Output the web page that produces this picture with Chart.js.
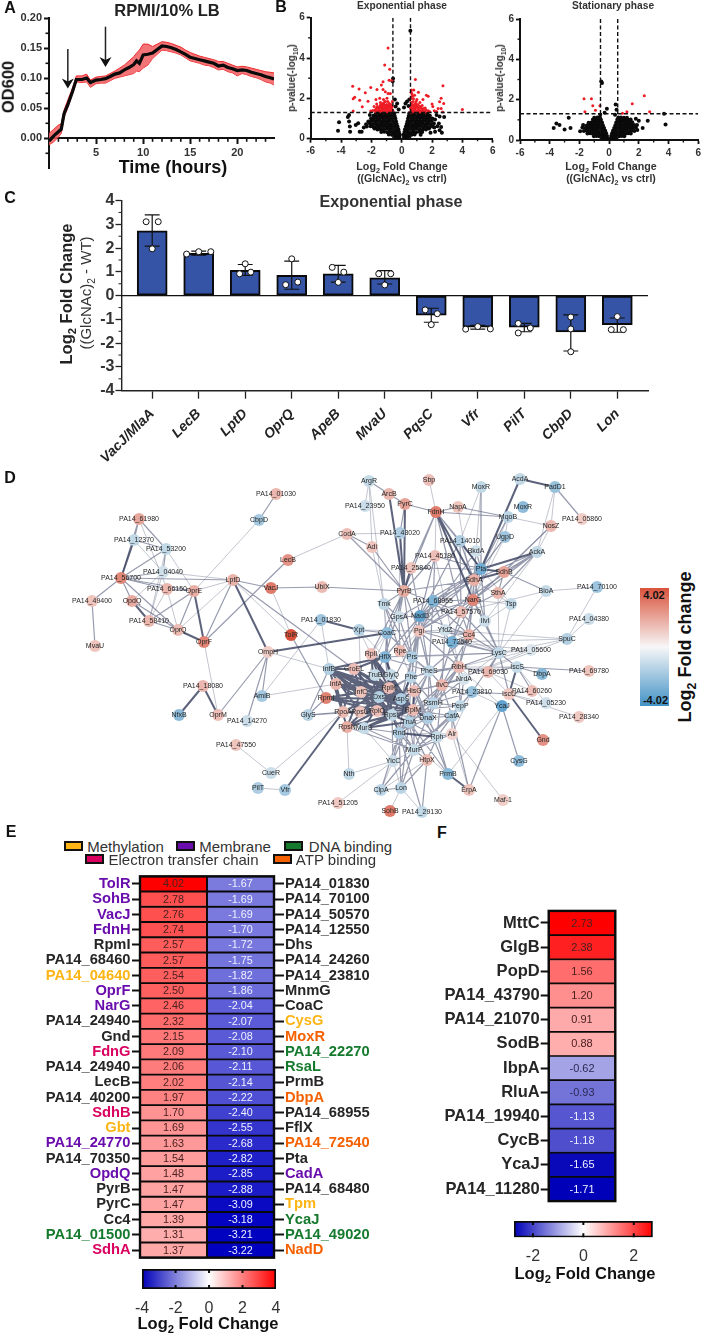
<!DOCTYPE html>
<html>
<head>
<meta charset="utf-8">
<style>
html, body { margin: 0; padding: 0; background: #fff; }
#page { position: relative; width: 704px; height: 1334px; overflow: hidden; font-family: "Liberation Sans", Arial, sans-serif; }
#page canvas { position: absolute; }
.txt { position: absolute; white-space: nowrap; line-height: 1; color: #222; }
.txt sub { font-size: 68%; line-height: 0; }
.swatch { position: absolute; height: 6px; border: 2px solid #111; box-sizing: content-box; }
</style>
<script src="https://cdn.jsdelivr.net/npm/chart.js@4/dist/chart.umd.min.js"></script>
</head>
<body>
<div id="page"></div>
<script>
// ---- panel A growth curve
const growthTime = [0, 0.5, 1, 1.3, 1.6, 2, 2.5, 2.9, 3.5, 4, 4.4, 5, 5.5, 6, 6.5, 7, 7.5, 8, 8.5, 9, 9.3, 9.6, 10, 10.5, 11, 11.5, 12, 12.5, 13, 13.5, 14, 14.5, 15, 15.5, 16, 16.5, 17, 17.5, 18, 18.5, 19, 19.5, 20, 20.5, 21, 21.5, 22, 22.5, 23, 23.5, 23.9];
const growthMean = [-0.005, 0.004, 0.011, 0.015, 0.041, 0.056, 0.078, 0.098, 0.098, 0.1005, 0.093, 0.097, 0.098, 0.0995, 0.103, 0.107, 0.109, 0.114, 0.118, 0.123, 0.129, 0.125, 0.139, 0.14, 0.142, 0.148, 0.154, 0.153, 0.151, 0.148, 0.144, 0.14, 0.135, 0.133, 0.131, 0.129, 0.127, 0.125, 0.1205, 0.122, 0.118, 0.116, 0.113, 0.114, 0.113, 0.11, 0.108, 0.106, 0.103, 0.101, 0.099];
const growthUpper = [0.008, 0.015, 0.022, 0.024, 0.047, 0.064, 0.084, 0.104, 0.104, 0.107, 0.097, 0.102, 0.103, 0.104, 0.108, 0.112, 0.117, 0.122, 0.129, 0.136, 0.142, 0.147, 0.157, 0.157, 0.153, 0.157, 0.161, 0.16, 0.158, 0.155, 0.152, 0.147, 0.143, 0.14, 0.137, 0.135, 0.133, 0.131, 0.128, 0.128, 0.125, 0.122, 0.119, 0.12, 0.119, 0.117, 0.115, 0.113, 0.111, 0.11, 0.109];
const growthLower = [-0.011, -0.006, 0.002, 0.008, 0.035, 0.051, 0.074, 0.094, 0.093, 0.094, 0.085, 0.091, 0.092, 0.092, 0.096, 0.1, 0.102, 0.104, 0.106, 0.108, 0.112, 0.111, 0.117, 0.122, 0.133, 0.14, 0.147, 0.146, 0.144, 0.142, 0.139, 0.134, 0.129, 0.127, 0.125, 0.122, 0.121, 0.118, 0.114, 0.115, 0.111, 0.109, 0.104, 0.108, 0.106, 0.103, 0.101, 0.098, 0.094, 0.092, 0.089];
const growthArrowTime = [2, 6];
const growthArrowTop = [0.149, 0.186];
const growthArrowTip = [0.083, 0.119];

// ---- panel B volcano plots, [log2 fold change, -log10 p]
const expRed = [[-0.9,4.5],[-1.12,3.65],[-0.79,3.45],[-1.23,2.82],[-0.83,2.9],[-0.64,2.9],[-3.23,2.6],[-2.81,2.47],[-2.4,2.28],[-2.04,2.54],[-1.63,2.44],[-1.34,2.66],[-1.23,2.44],[-1.08,2.33],[-0.9,2.24],[-0.75,2.24],[-3.2,1.98],[-3.1,2.05],[-2.77,1.91],[-2.22,1.86],[-1.45,2.0],[-0.97,2.0],[-1.7,1.95],[-1.2,1.95],[-2.6,1.58],[-3.2,1.37],[-2.04,1.37],[-1.82,1.6],[-1.65,1.72],[-1.5,1.55],[-1.4,1.8],[-1.28,1.62],[-1.18,1.78],[-1.1,1.52],[-1,1.7],[-0.92,1.85],[-0.85,1.55],[-0.75,1.7],[-0.68,1.5],[-0.62,1.85],[-1.9,1.4],[-1.75,1.42],[-1.6,1.38],[-1.48,1.42],[-1.35,1.38],[-1.25,1.44],[-1.15,1.38],[-1.05,1.42],[-0.95,1.38],[-0.85,1.42],[-0.75,1.38],[-0.65,1.42],[-1.55,1.52],[-1.2,1.55],[-0.95,1.55],[-0.8,1.62],[-1.05,1.62],[-1.35,1.52],
  [-1.68,1.5],[-1.42,1.62],[-1.3,1.5],[-1.12,1.66],[-1,1.5],[-0.9,1.65],[-0.72,1.56],[-0.62,1.6],[-1.45,1.34],[-1.2,1.34],[-0.98,1.34],[-0.72,1.34],[-1.6,1.6],[-1.25,1.72],[-1.08,1.85],[-0.82,1.75],[-0.68,1.68],[-1.72,1.34],[-1.38,1.7],[-0.58,1.4],
  [0.9,2.94],[0.64,2.41],[0.8,2.42],[0.62,2.3],[1.1,2.3],[2.72,2.62],[1.63,2.16],[2.6,2.0],[2.5,1.83],[2.77,1.75],[2,1.72],[4,1.45],[2.05,1.6],[2.4,1.5],[2.15,1.38],[2.6,1.5],[2.7,1.32],[2.3,1.35],[1.75,2.1],[1.4,1.95],[0.7,2.1],[0.85,2.15],[1.0,1.95],[0.62,1.8],[0.75,1.85],[0.9,1.75],[1.05,1.7],[1.2,1.8],[1.35,1.65],[0.65,1.62],[0.8,1.58],[0.95,1.55],[1.1,1.52],[1.25,1.55],[1.45,1.5],[1.6,1.42],[0.62,1.42],[0.75,1.38],[0.88,1.42],[1,1.38],[1.15,1.4],[1.3,1.38],[1.45,1.36],[1.75,1.38],[1.85,1.34],
  [0.7,1.5],[0.85,1.48],[1,1.62],[1.18,1.62],[1.32,1.48],[0.58,1.52],[0.72,1.7],[0.88,1.66],[0.62,2.0],[0.78,1.98],[0.68,2.22],[0.95,1.85],[1.55,1.52],[0.7,1.33],[0.95,1.33],[1.2,1.33],[1.55,1.33],[1.35,1.44],[0.6,1.33],[1.12,1.44]];
const expBlack = [[-4.13,0.81],[-4.2,0.4],[-3.47,1.17],[-3.55,1.08],[-3.47,0.85],[-3.42,0.6],[-3.4,0.35],[-2.87,0.76],[-3.03,0.68],[-2.77,0.35],[-2.64,0.35],[-2.1,1.17],[-2.5,0.55],[-0.57,2.98],[-0.6,2.85],[0.57,5.35],[-0.45,1.95],[-0.3,1.75],[0.25,1.75],[0.35,1.85],[0.15,1.55],[0.5,1.95],[0.45,1.62],[-0.2,1.45],[-0.4,1.6],
  [-0.15,0.08],[-0.3,0.06],[-0.45,0.1],[-0.12,0.2],[-0.28,0.18],[-0.45,0.22],[-0.65,0.19],[-0.85,0.21],[-0.18,0.33],[-0.35,0.35],[-0.55,0.31],[-0.75,0.34],[-0.95,0.32],[-1.15,0.35],[-1.35,0.33],[-0.22,0.47],[-0.4,0.45],[-0.6,0.48],[-0.8,0.46],[-1,0.49],[-1.2,0.45],[-1.4,0.47],[-1.6,0.46],[-1.8,0.5],[-0.28,0.6],[-0.45,0.62],[-0.65,0.59],[-0.85,0.61],[-1.05,0.6],[-1.25,0.62],[-1.45,0.59],[-1.65,0.61],[-1.85,0.58],[-2.05,0.62],[-2.3,0.6],[-0.33,0.73],[-0.52,0.75],[-0.7,0.72],[-0.9,0.74],[-1.1,0.73],[-1.3,0.75],[-1.5,0.72],[-1.7,0.74],[-1.9,0.72],[-2.1,0.75],[-2.35,0.72],[-0.38,0.87],[-0.58,0.85],[-0.78,0.88],[-0.98,0.86],[-1.18,0.87],[-1.38,0.85],[-1.58,0.88],[-1.78,0.86],[-1.98,0.88],[-2.2,0.85],[-0.42,1],[-0.62,1.01],[-0.82,0.99],[-1.02,1.01],[-1.22,1],[-1.42,1.02],[-1.62,0.99],[-1.82,1.01],[-2.02,1],[-0.46,1.13],[-0.66,1.12],[-0.86,1.14],[-1.06,1.12],[-1.26,1.13],[-1.46,1.14],[-1.66,1.12],[-1.86,1.14],[-0.5,1.26],[-0.7,1.25],[-0.9,1.27],[-1.1,1.25],[-1.3,1.26],[-1.5,1.27],[-1.7,1.25],
  [0.15,0.08],[0.3,0.06],[0.45,0.1],[0.12,0.2],[0.28,0.18],[0.45,0.22],[0.65,0.19],[0.85,0.21],[0.18,0.33],[0.35,0.35],[0.55,0.31],[0.75,0.34],[0.95,0.32],[1.15,0.35],[1.35,0.33],[0.22,0.47],[0.4,0.45],[0.6,0.48],[0.8,0.46],[1,0.49],[1.2,0.45],[1.4,0.47],[1.6,0.46],[1.8,0.5],[0.28,0.6],[0.45,0.62],[0.65,0.59],[0.85,0.61],[1.05,0.6],[1.25,0.62],[1.45,0.59],[1.65,0.61],[1.85,0.58],[2.05,0.6],[0.33,0.73],[0.52,0.75],[0.7,0.72],[0.9,0.74],[1.1,0.73],[1.3,0.75],[1.5,0.72],[1.7,0.74],[1.9,0.72],[2.12,0.75],[0.38,0.87],[0.58,0.85],[0.78,0.88],[0.98,0.86],[1.18,0.87],[1.38,0.85],[1.58,0.88],[1.78,0.86],[1.98,0.88],[0.42,1],[0.62,1.01],[0.82,0.99],[1.02,1.01],[1.22,1],[1.42,1.02],[1.62,0.99],[1.82,1.01],[2.02,1],[0.46,1.13],[0.66,1.12],[0.86,1.14],[1.06,1.12],[1.26,1.13],[1.46,1.14],[1.66,1.12],[1.86,1.14],[0.5,1.26],[0.7,1.25],[0.9,1.27],[1.1,1.25],[1.3,1.26],[1.5,1.27],[1.7,1.25],
  [2.3,1.17],[2.2,0.95],[2.5,1.1],[2.15,0.55],[2.45,0.75],[2.35,0.62],[2.6,0.58],[2.5,0.42],[2.65,0.3],[2.2,0.35],[1.25,0.2],[1.9,0.3],[2.8,1.08]];
const statRed = [[-1.69,2.05],[-1.19,2.05],[2.37,2.2],[1.56,1.8],[-1.1,1.7],[-0.62,1.7],[-1.63,1.4],[-0.92,1.48],[0.9,1.33],[1.2,1.4],[2.73,1.4]];
const statBlack = [[-0.53,2.9],[-0.48,2.83],[0.44,1.76],[0.5,1.5],[-0.15,1.55],[-0.3,1.35],[3.7,1.3],[3.8,0.77],[-2.72,1.1],[-3.73,0.6],[-3.55,0.82],[-3.34,0.74],[-3,0.52],[-2.6,0.6],[2.6,0.95],[2.26,0.6],[0.4,1.25],[-0.6,1.25],[1.8,1.05],[2,0.95],
  [-0.12,0.07],[-0.28,0.09],[-0.44,0.06],[-0.14,0.2],[-0.3,0.18],[-0.48,0.21],[-0.66,0.19],[-0.84,0.2],[-1.02,0.18],[-0.2,0.33],[-0.38,0.31],[-0.56,0.34],[-0.74,0.32],[-0.92,0.33],[-1.1,0.31],[-1.28,0.34],[-1.46,0.32],[-0.26,0.46],[-0.44,0.47],[-0.62,0.45],[-0.8,0.47],[-0.98,0.46],[-1.16,0.48],[-1.34,0.45],[-1.52,0.47],[-1.7,0.45],[-1.95,0.44],[-0.34,0.6],[-0.52,0.59],[-0.7,0.61],[-0.88,0.59],[-1.06,0.6],[-1.24,0.61],[-1.42,0.59],[-1.6,0.6],[-1.8,0.62],[-0.42,0.73],[-0.6,0.74],[-0.78,0.72],[-0.96,0.74],[-1.14,0.73],[-1.32,0.74],[-1.5,0.72],[-1.75,0.74],[-0.48,0.87],[-0.66,0.86],[-0.84,0.88],[-1.02,0.86],[-1.2,0.87],[-1.38,0.85],[-0.55,1],[-0.73,1.01],[-0.91,0.99],[-1.09,1.02],[-0.62,1.12],[-0.8,1.12],[-1,1.1],
  [0.12,0.07],[0.28,0.09],[0.44,0.06],[0.14,0.2],[0.3,0.18],[0.48,0.21],[0.66,0.19],[0.84,0.2],[1.02,0.18],[0.2,0.33],[0.38,0.31],[0.56,0.34],[0.74,0.32],[0.92,0.33],[1.1,0.31],[1.28,0.34],[1.46,0.32],[0.26,0.46],[0.44,0.47],[0.62,0.45],[0.8,0.47],[0.98,0.46],[1.16,0.48],[1.34,0.45],[1.52,0.47],[1.7,0.45],[1.9,0.5],[0.34,0.6],[0.52,0.59],[0.7,0.61],[0.88,0.59],[1.06,0.6],[1.24,0.61],[1.42,0.59],[1.6,0.6],[1.8,0.62],[0.42,0.73],[0.6,0.74],[0.78,0.72],[0.96,0.74],[1.14,0.73],[1.32,0.74],[1.5,0.72],[1.68,0.74],[1.88,0.75],[0.48,0.87],[0.66,0.86],[0.84,0.88],[1.02,0.86],[1.2,0.87],[1.38,0.85],[1.56,0.88],[0.55,1],[0.73,1.01],[0.91,0.99],[1.09,1.02],[1.27,1],[1.45,1.02],[0.62,1.12],[0.8,1.12],[1,1.1],[1.2,1.1]];
const foldCutoffs = [-0.58, 0.58];
const pCutoff = 1.3;

// ---- panel C bars
const qpcrGenes = ["VacJ/MlaA", "LecB", "LptD", "OprQ", "ApeB", "MvaU", "PqsC", "Vfr", "PilT", "CbpD", "Lon"];
const qpcrMeans = [2.73, 1.78, 1.07, 0.85, 0.92, 0.75, -0.82, -1.33, -1.33, -1.53, -1.22];
const qpcrErrLow = [2.08, 1.7, 0.85, 0.27, 0.57, 0.49, -1.12, -1.41, -1.52, -2.33, -1.54];
const qpcrErrHigh = [3.4, 1.87, 1.31, 1.45, 1.27, 1.05, -0.53, -1.25, -1.17, -0.81, -0.94];
const qpcrDotX = [-0.13, 0.13, 0, 0.74, 1, 1.26, 2, 1.88, 2.12, 3, 2.87, 3.13, 3.87, 4.12, 4, 4.87, 5.13, 5, 5.87, 6.13, 6, 6.74, 7, 7.27, 7.87, 8.13, 7.87, 9, 9, 9, 10, 9.87, 10.13];
const qpcrDotY = [3.11, 3.11, 1.97, 1.75, 1.85, 1.85, 1.34, 0.92, 0.99, 1.55, 0.46, 0.57, 1.19, 0.99, 0.56, 0.92, 0.92, 0.45, -0.6, -0.76, -1.22, -1.41, -1.3, -1.4, -1.17, -1.36, -1.57, -0.9, -1.4, -2.36, -0.88, -1.43, -1.43];

// ---- panel D network: layout position of each protein
const nodeNames = ["PA14_01030", "CbpD", "PA14_61980", "PA14_12370", "PA14_53200", "PA14_04040", "PA14_56700", "PA14_66150", "OprE", "LptD",
  "LecB", "VacJ", "UbiX", "PA14_49400", "OpdQ", "PA14_58410", "OprQ", "OprF", "TolR", "OmpH",
  "PA14_01830", "MvaU", "PA14_18080", "NfxB", "OprM", "PA14_14270", "AmiB", "PA14_47550", "CueR", "PilT",
  "Vfr", "GlyS", "InfB", "GroEL", "InfA", "RpmI", "RpoA", "RpsN", "Nth", "CodA",
  "Xpt", "ArgR", "ArcB", "Sbp", "PyrC", "PA14_23950", "MoxR", "AcdA", "PadD1", "MoxR",
  "FdnH", "NapA", "MqoB", "PA14_05860", "NosZ", "PA14_48020", "PA14_14010", "UgpD", "Adi", "BkdA",
  "AckA", "PA14_45180", "PA14_25840", "Pta", "SdhB", "SdhA", "PyrB", "SthA", "BioA", "PA14_70100",
  "Tmk", "PA14_68955", "NarG", "Tsp", "PA14_57570", "GpsA", "NadD", "IlvI", "PA14_04380", "CoaC",
  "Pgi", "YfdZ", "Cc4", "PA14_72540", "SpuC", "LysC", "PA14_05600", "RplI", "HflX", "Rpe",
  "Prs", "PheS", "RibH", "PA14_69030", "IscS", "DbpA", "PA14_69780", "TruB", "GlyQ", "Phe",
  "NrdA", "IlvC", "InfC", "RplK", "HisG", "PA14_23810", "IscU", "PA14_60260", "PA14_05230", "Dxs",
  "AspS", "RsmH", "PepP", "YcaJ", "RpsU", "RplO", "RplM", "RpsL", "TruA", "DnaX",
  "CafA", "PA14_28340", "MurS", "Rnd", "Rph", "Alr", "Gnd", "MurF", "HtpX", "YicC",
  "CysG", "PrmB", "ClpA", "Lon", "ErpA", "Maf-1", "PA14_51205", "SohB", "PA14_29130"];
const nodeX = [276, 259, 139, 134, 166, 163, 121, 167, 194, 233,
  288, 271, 322, 92, 132, 149, 178, 204, 291, 268,
  321, 95, 203, 179, 218, 247, 262, 236, 271, 258,
  285, 308, 329, 354, 336, 326, 343, 347, 349, 347,
  359, 369, 389, 429, 405, 365, 481, 520, 555, 523,
  436, 458, 508, 582, 551, 400, 460, 505, 372, 476,
  537, 435, 411, 481, 504, 474, 404, 498, 546, 597,
  384, 433, 473, 511, 461, 399, 420, 485, 589, 387,
  419, 445, 469, 452, 567, 499, 531, 371, 385, 400,
  412, 429, 459, 488, 517, 542, 589, 375, 391, 411,
  464, 442, 361, 389, 414, 472, 509, 532, 546, 379,
  401, 433, 460, 502, 360, 377, 413, 392, 409, 428,
  452, 579, 364, 399, 437, 452, 543, 414, 427, 393,
  519, 448, 381, 401, 469, 503, 338, 390, 422];
const nodeY = [494, 520, 519, 540, 549, 572, 578, 589, 591, 580,
  560, 588, 587, 601, 601, 621, 630, 642, 635, 652,
  620, 646, 686, 715, 715, 721, 696, 745, 773, 788,
  790, 715, 669, 669, 684, 698, 712, 727, 774, 534,
  630, 481, 494, 480, 504, 506, 487, 479, 487, 507,
  512, 507, 517, 519, 526, 533, 541, 537, 547, 551,
  552, 556, 568, 569, 572, 580, 591, 593, 591, 587,
  604, 601, 600, 604, 612, 617, 616, 621, 619, 633,
  631, 630, 635, 642, 639, 653, 650, 654, 657, 651,
  657, 671, 667, 672, 667, 674, 671, 675, 675, 677,
  679, 685, 692, 688, 691, 692, 694, 691, 703, 697,
  699, 703, 706, 706, 712, 711, 710, 715, 722, 718,
  716, 717, 728, 733, 737, 734, 740, 750, 760, 761,
  761, 774, 790, 788, 790, 800, 803, 811, 812];
const nodeFold = [1.2, -1.5, 1.6, -0.9, -0.9, -0.6, 2.4, 1.2, 1.4, 1.3,
  2.1, 2.76, 1.1, 0.9, 1.48, 1.2, 1.1, 2.5, 4.02, 0.7,
  -1.67, 0.9, 1.2, -2.1, 1, -0.7, -1.5, 0.9, -0.7, -1.3,
  -1.5, -1.1, -1.2, 1, 1.2, 2.57, 1.1, 1.4, -0.9, 1,
  -1.2, -0.8, 1.2, 1, 1.7, -0.7, -0.9, -0.9, -1.8, -2.08,
  2.74, 0.9, -1, 0.7, 1.2, -1.3, -1.3, -1.6, 0.9, -0.6,
  -0.9, 1, 0.9, -2.82, 1.7, 1.37, 1.47, 1.2, -0.8, -1.69,
  -0.9, -2.4, 2.46, -0.9, 1.1, -0.7, -3.22, -0.7, -0.7, -2.04,
  0.9, -0.6, 1.39, -2.68, -1.2, -0.9, -0.4, 1, -2.3, 1.1,
  -1.3, -0.9, 1.1, 1.2, -0.8, -2.22, 0.9, -0.8, -0.8, -1,
  -0.5, 1.2, 0.9, 1.1, 1, -1.82, 0.8, 1, -0.6, -1.2,
  -1.3, -1, -0.9, -3.18, 0.9, 1, 1.1, -0.9, -1.2, -1.3,
  -1.2, 0.8, -0.8, -1.3, -0.8, 0.6, 2.15, -0.8, 1.1, -0.7,
  -2.07, -2.14, -1, -1, 0.9, 0.7, 0.8, 2.78, -0.9];
const thinEdges = ["CbpD OprE", "PA14_61980 PA14_66150", "PA14_12370 PA14_04040", "PA14_53200 OprE", "PA14_53200 PA14_58410", "PA14_04040 LptD", "PA14_04040 OpdQ", "PA14_04040 PA14_58410", "PA14_66150 OprQ", "PA14_66150 PA14_58410", "OprE LptD", "OprQ LptD", "LptD TolR", "OprF OprM", "VacJ TolR", "LecB CodA", "OmpH InfB", "PA14_01830 InfB", "PA14_01830 AmiB", "AmiB InfA", "PA14_47550 CueR", "PilT Vfr", "CueR RpoA", "GlyS RplO", "GlyS RpsU", "Nth RpsN", "ArgR PA14_23950", "ArgR Adi", "Sbp FdnH", "PA14_48020 CodA", "FdnH PA14_45180", "NapA NarG", "MqoB NosZ", "MoxR BkdA", "MoxR PA14_14010", "PadD1 AckA", "PadD1 NosZ", "MqoB UgpD", "NosZ AckA", "SthA LysC", "BioA PA14_70100", "BioA LysC", "PA14_70100 SpuC", "SpuC LysC", "SpuC PA14_72540", "Tsp Pta", "Tsp LysC", "Tmk RplK", "Pgi Rpe", "Pgi YfdZ", "CoaC RplI", "YfdZ LysC", "LysC PA14_05600", "LysC NrdA", "LysC Prs", "IscS PA14_05230", "IscU PA14_28340", "IscU PA14_05230", "YcaJ PrmB", "PA14_23810 YcaJ", "Alr Rnd", "MurF YicC", "HtpX ClpA", "YicC ClpA", "YicC Lon", "Lon SohB", "PA14_51205 YicC", "Maf-1 Alr", "ErpA Alr", "Rnd PrmB", "Nth YicC", "PA14_04380 SpuC", "PA14_29130 Lon", "Rpe PheS", "Rpe Phe", "PA14_05600 PA14_72540", "YcaJ RibH", "NrdA IlvC", "PA14_45180 RibH", "MurS YicC", "MurS RpoA", "Alr PA14_23810",
  "PA14_69030 PA14_60260", "PA14_69030 IscU", "PA14_05600 IlvC", "PA14_05600 RibH", "IscS RibH", "IscS PheS", "SpuC YfdZ", "SpuC IlvC", "BioA PA14_57570", "NosZ NarG", "MqoB NarG", "MoxR Pta", "UgpD SdhA", "UgpD NarG", "Tsp NarG", "Tsp SdhA", "Tsp IlvI", "AckA IlvI", "PA14_48020 GpsA", "Adi Tmk", "ArgR Tmk", "Tmk CoaC", "Xpt RplI", "Xpt HflX", "Xpt InfC", "CoaC InfC", "Pgi Xpt"];
const midEdges = ["PA14_01030 CbpD", "PA14_61980 PA14_12370", "PA14_61980 PA14_56700", "PA14_61980 PA14_53200", "PA14_12370 PA14_53200", "PA14_53200 PA14_56700", "PA14_53200 PA14_04040", "PA14_04040 PA14_56700", "PA14_56700 LptD", "PA14_56700 PA14_66150", "PA14_56700 OprE", "PA14_56700 OprQ", "PA14_56700 OpdQ", "PA14_56700 PA14_49400", "PA14_49400 MvaU", "OpdQ OprQ", "PA14_58410 OprQ", "PA14_58410 OprE", "PA14_66150 OprE", "OprE OprQ", "LptD OprF", "LptD VacJ", "LptD GroEL", "OprF LecB", "VacJ UbiX", "UbiX PyrB", "TolR RpmI", "OmpH AmiB", "OmpH OprM", "OmpH PA14_14270", "GlyS InfB", "GlyS RpmI", "GlyS RpoA", "ArgR ArcB", "ArcB PyrC", "PyrC FdnH", "PA14_48020 PyrC", "Adi PyrB", "CodA PyrB", "Adi CodA", "FdnH NapA", "FdnH MqoB", "FdnH PA14_14010", "FdnH PA14_57570", "FdnH Pta", "NapA MqoB", "MqoB Pta", "PadD1 PA14_05860", "UgpD Pta", "NosZ SdhB", "AckA SdhB", "AckA SthA", "AckA SdhA", "Pta NarG", "Pta PA14_68955", "Pta PA14_25840", "Pta NadD", "Pta BkdA", "SdhB NarG", "SdhB SthA", "SdhB BioA", "SdhA NarG", "SdhA PA14_57570", "SdhA NadD", "SthA PA14_57570", "PA14_14010 PA14_57570", "PA14_14010 SdhA", "PA14_45180 PyrB", "PA14_45180 Pta", "BkdA Pgi", "PA14_25840 NadD", "PyrB GpsA", "PyrB Pgi", "PyrB CoaC", "PyrB Tmk", "Tmk GpsA", "GpsA NadD", "NadD Pgi", "NadD NarG", "NadD PA14_68955", "NadD PheS", "NadD Cc4", "Pgi RplK", "Pgi Prs", "Pgi PA14_68955", "Pgi Cc4", "Pgi RibH", "Pgi LysC", "Pgi NarG", "Xpt CoaC", "CoaC HflX", "Cc4 IlvI", "Cc4 PA14_72540", "Cc4 NarG", "Cc4 PA14_57570", "Cc4 RibH", "Cc4 LysC", "IlvI LysC", "IlvI Pta", "IlvI NarG", "YfdZ IlvC", "PA14_72540 LysC", "RibH LysC", "RibH PheS", "RibH IlvC", "RibH NrdA", "RibH PA14_69030", "LysC IscS", "LysC PA14_69030", "LysC IscU", "IscS DbpA", "IscS PA14_69780", "IscS PA14_60260", "IscS PA14_69030", "IscU PA14_60260", "YcaJ CysG", "YcaJ ErpA", "PA14_23810 IscU", "PA14_23810 IlvC", "PA14_23810 RsmH", "PepP CafA", "CafA DnaX", "CafA RplM", "CafA MurF", "PepP RsmH", "Alr Rph", "Alr MurF", "Rph MurF", "Rph TruA", "Rph PrmB", "Rnd MurF", "Rnd RplM", "Rnd DnaX", "MurF HtpX", "MurF TruA", "MurF RsmH", "HtpX Lon", "HtpX PA14_29130", "YicC Rnd", "ClpA Lon", "PA14_29130 Rnd", "ErpA CafA", "PrmB TruA", "PrmB HisG", "Phe RibH", "PheS RplM", "RplI PheS", "HflX LysC", "Prs PheS", "PheS DnaX", "Phe DnaX", "HisG DnaX", "HisG IlvC", "IlvC RsmH", "RsmH RplM", "DnaX RsmH", "Prs HisG", "Prs AspS", "HflX RplK", "HflX TruB", "Phe RplK", "Phe Dxs", "PheS RplK", "IlvC RplM", "PheS Rnd", "RibH TruA", "RibH PepP", "PA14_68955 PheS", "PA14_68955 Prs", "NarG RibH", "NarG LysC", "PA14_72540 RsmH", "PA14_72540 DnaX", "PA14_57570 LysC", "PA14_57570 PyrB",
  "Pgi PheS", "Pgi HisG", "Pgi Phe", "NadD Prs", "NadD Rpe", "NadD HflX", "PyrB Prs", "PyrB HflX", "PyrB RplI", "GpsA Prs", "GpsA Rpe", "Tmk Prs", "Tmk Rpe", "CoaC Prs", "CoaC RplK", "PA14_68955 RibH", "PA14_68955 Cc4", "PA14_68955 NarG", "PA14_68955 SdhA", "NarG YfdZ", "NarG PA14_72540", "Cc4 YfdZ", "Cc4 PheS", "Cc4 IlvC", "PA14_57570 PA14_72540", "SdhA Cc4", "SdhA IlvI", "SdhA PyrB", "FdnH PyrB", "FdnH PA14_25840", "PA14_45180 NadD", "PA14_45180 PA14_68955", "PA14_14010 NadD", "BkdA NarG", "BkdA SdhA", "Pta GpsA", "Pta Pgi", "AckA NarG", "AckA Pgi", "RibH DnaX", "RibH RsmH", "PheS HisG", "PheS IlvC", "PheS RsmH", "NrdA RsmH", "NrdA PepP", "NrdA HisG", "IlvC Rph", "IlvC CafA", "DnaX Rph", "TruA Rnd", "RsmH Rnd", "RsmH MurF", "HisG MurF", "HisG Rph", "Phe RsmH", "Prs Rnd", "Phe TruA", "RplM PepP", "RplM Rph", "RpsL MurF", "RpsL DnaX", "TruA DnaX", "PepP Rph", "PepP MurF", "CafA Rph", "CafA Alr", "PA14_23810 PepP", "PA14_23810 CafA", "PA14_23810 LysC", "YicC RpsL", "YicC TruA", "ClpA Rnd", "ClpA MurF", "Lon MurF", "Lon Rnd", "Lon TruA", "HtpX Rph", "HtpX TruA", "MurS Rnd", "MurS MurF", "RpsN MurF"];
const thickEdges = ["PA14_12370 PA14_56700", "OpdQ PA14_58410", "OprE OprF", "OprQ OprF", "LptD OmpH", "OmpH CoaC", "PA14_18080 NfxB", "PA14_18080 OprM", "PA14_01830 Xpt", "Vfr RpoA", "ArcB PyrB", "PyrC PyrB", "PA14_48020 PyrB", "FdnH SdhA", "FdnH NarG", "AcdA PadD1", "AcdA Pta", "AckA Pta", "Pta SdhA", "Pta SdhB", "SdhB SdhA", "PA14_14010 Pta", "PA14_25840 PyrB", "IscS IscU", "IscU Gnd", "Rph Rnd", "Rnd RpsL", "PrmB ErpA", "DnaX RplM", "TruA RplM", "HflX AspS", "HflX GlyQ", "Phe AspS",
  "InfB InfC", "InfB RplK", "InfB Dxs", "InfB AspS", "InfB RplO", "InfB RpsU", "InfB RpsL", "InfB RplM", "InfA InfC", "InfA RplK", "InfA RpsL", "InfA AspS", "InfA RplM", "RpmI InfC", "RpmI RplK", "RpmI RplO", "RpmI RpsL", "RpmI RplM", "RpmI AspS", "GroEL InfC", "GroEL RplK", "GroEL Dxs", "GroEL AspS", "GroEL RpsL", "TruB RplK", "TruB AspS", "TruB RplM", "GlyQ AspS", "GlyQ RplM", "GlyQ RplO", "RplI RplK", "RplI RplO", "RplI RpsL", "RplI AspS", "RplI RplM", "InfC RplK", "InfC RplO", "InfC RpsL", "InfC RplM", "RplK RpsL", "RplK RplM", "RplK RplO", "RplK AspS", "Dxs RplM", "Dxs RpsL", "RplO RplM", "RplO RpsL", "RpsU RplK", "RpsU RplM", "RpsU RpsL", "RpoA RplK", "RpoA RplM", "RpoA RpsL", "RpoA RplO", "RpsN RplK", "RpsN RplM", "RpsN RpsL", "AspS RplM", "AspS RpsL", "RpsL RplM", "RplM HisG", "MurS RplM", "MurS RpsL", "MurS RplK", "InfB RpoA", "InfB RpsN", "GroEL RpoA", "GroEL RplM", "InfC RpsN", "InfA RpoA", "InfB GroEL", "InfB HflX", "GroEL HflX", "TruB Dxs", "InfC Dxs", "RpsU Dxs", "RplO AspS", "HisG AspS", "RpoA RpsU", "RpsN RplO", "MurS TruA", "RpsL TruA"];

// ---- panel E heatmap
const leftGenes = ["TolR", "SohB", "VacJ", "FdnH", "RpmI", "PA14_68460", "PA14_04640", "OprF", "NarG", "PA14_24940", "Gnd", "FdnG", "PA14_24940", "LecB", "PA14_40200", "SdhB", "Gbt", "PA14_24770", "PA14_70350", "OpdQ", "PyrB", "PyrC", "Cc4", "PA14_01500", "SdhA"];
const leftFold = [4.02, 2.78, 2.76, 2.74, 2.57, 2.57, 2.54, 2.50, 2.46, 2.32, 2.15, 2.09, 2.06, 2.02, 1.97, 1.70, 1.69, 1.63, 1.54, 1.48, 1.47, 1.47, 1.39, 1.31, 1.37];
const leftGroups = ["mem", "mem", "mem", "mem", "", "", "met", "mem", "mem", "", "", "etc", "", "", "", "etc", "met", "mem", "", "mem", "", "", "", "dna", "etc"];
const rightGenes = ["PA14_01830", "PA14_70100", "PA14_50570", "PA14_12550", "Dhs", "PA14_24260", "PA14_23810", "MnmG", "CoaC", "CysG", "MoxR", "PA14_22270", "RsaL", "PrmB", "DbpA", "PA14_68955", "FflX", "PA14_72540", "Pta", "CadA", "PA14_68480", "Tpm", "YcaJ", "PA14_49020", "NadD"];
const rightFold = [-1.67, -1.69, -1.69, -1.70, -1.72, -1.75, -1.82, -1.86, -2.04, -2.07, -2.08, -2.10, -2.11, -2.14, -2.22, -2.40, -2.55, -2.68, -2.82, -2.85, -2.88, -3.09, -3.18, -3.21, -3.22];
const rightGroups = ["", "", "", "", "", "", "", "", "", "met", "atp", "dna", "dna", "", "atp", "", "", "atp", "", "mem", "", "met", "dna", "dna", "atp"];
const heatTicksE = [-4, -2, 0, 2, 4];

// ---- panel F heatmap
const statGenes = ["MttC", "GlgB", "PopD", "PA14_43790", "PA14_21070", "SodB", "IbpA", "RluA", "PA14_19940", "CycB", "YcaJ", "PA14_11280"];
const statFold = [2.73, 2.38, 1.56, 1.20, 0.91, 0.88, -0.62, -0.93, -1.13, -1.18, -1.65, -1.71];
const heatTicksF = [-2, 0, 2];

const groupColors = { "": "#262626", mem: "#6a0dad", met: "#fdb515", etc: "#d9005f", dna: "#157a2e", atp: "#f56000" };

// ---- helpers
const page = document.getElementById("page");
Chart.defaults.font.family = '"Liberation Sans", Arial, sans-serif';
Chart.defaults.animation = false;
Chart.defaults.responsive = false;
Chart.defaults.devicePixelRatio = 1;
Chart.defaults.plugins.legend.display = false;
Chart.defaults.plugins.tooltip.enabled = false;

function addText(html, cx, cy, font, opts) {
    opts = opts || {};
    const el = document.createElement("div");
    el.className = "txt";
    el.innerHTML = html;
    el.style.font = font;
    el.style.lineHeight = "1";
    el.style.left = cx + "px";
    el.style.top = cy + "px";
    if (opts.color) el.style.color = opts.color;
    const rotate = opts.rot ? ` rotate(${opts.rot}deg)` : "";
    el.style.transform = `translate(-50%,-50%)${rotate}`;
    page.appendChild(el);
}

// canvas in page position, with the plot frame also given in page position
function makeBox(x, y, w, h, l, t, r, b) {
    const canvas = document.createElement("canvas");
    canvas.width = w;
    canvas.height = h;
    canvas.style.left = x + "px";
    canvas.style.top = y + "px";
    page.appendChild(canvas);
    return { canvas, left: l - x, top: t - y, right: x + w - r, bottom: y + h - b };
}

function fixWidth(w) { return (scale) => { scale.width = w; }; }
function fixHeight(h) { return (scale) => { scale.height = h; }; }

const minorTicks = {
    id: "minorTicks",
    afterDatasetsDraw(chart, args, opts) {
        const ctx = chart.ctx;
        const area = chart.chartArea;
        ctx.save();
        ctx.strokeStyle = opts.color || "#111";
        ctx.lineWidth = opts.width || 1.5;
        (opts.x || []).forEach((v) => {
            const px = chart.scales.x.getPixelForValue(v);
            const base = opts.xAt === undefined ? area.bottom : chart.scales.y.getPixelForValue(opts.xAt);
            ctx.beginPath();
            ctx.moveTo(px, base);
            ctx.lineTo(px, base + opts.len);
            ctx.stroke();
        });
        (opts.y || []).forEach((v) => {
            const py = chart.scales.y.getPixelForValue(v);
            ctx.beginPath();
            ctx.moveTo(area.left, py);
            ctx.lineTo(area.left - opts.len, py);
            ctx.stroke();
        });
        ctx.restore();
    }
};

// ---- panel A
const arrowMarks = {
    id: "arrowMarks",
    afterDatasetsDraw(chart) {
        const ctx = chart.ctx;
        const { x, y } = chart.scales;
        ctx.save();
        ctx.strokeStyle = "#222";
        ctx.fillStyle = "#111";
        ctx.lineWidth = 1.5;
        growthArrowTime.forEach((t, i) => {
            const px = x.getPixelForValue(t);
            const top = y.getPixelForValue(growthArrowTop[i]);
            const tip = y.getPixelForValue(growthArrowTip[i]);
            ctx.beginPath();
            ctx.moveTo(px, top);
            ctx.lineTo(px, tip - 4);
            ctx.stroke();
            ctx.beginPath();
            ctx.moveTo(px, tip);
            ctx.lineTo(px - 6, tip - 10);
            ctx.lineTo(px, tip - 7);
            ctx.lineTo(px + 6, tip - 10);
            ctx.closePath();
            ctx.fill();
        });
        ctx.restore();
    }
};

function pairSeries(xs, ys) { return xs.map((v, i) => ({ x: v, y: ys[i] })); }
function toPoints(pairs) { return pairs.map((p) => ({ x: p[0], y: p[1] })); }

const boxA = makeBox(0, 0, 282, 180, 49, 18.3, 274, 168.3);
new Chart(boxA.canvas, {
    type: "line",
    data: {
        datasets: [
            { data: pairSeries(growthTime, growthMean), borderColor: "#0a0a0a", borderWidth: 3.2, pointRadius: 0, tension: 0 },
            { data: pairSeries(growthTime, growthUpper), borderColor: "#ee2a2e", borderWidth: 1, pointRadius: 0, tension: 0, fill: "+1", backgroundColor: "rgba(240,92,95,0.85)" },
            { data: pairSeries(growthTime, growthLower), borderColor: "#ee2a2e", borderWidth: 1, pointRadius: 0, tension: 0 }
        ]
    },
    options: {
        layout: { autoPadding: false, padding: { left: 0, top: boxA.top, right: boxA.right, bottom: boxA.bottom } },
        plugins: { minorTicks: { x: [1, 2, 3, 4, 6, 7, 8, 9, 11, 12, 13, 14, 16, 17, 18, 19, 21, 22, 23], xAt: 0, y: [-0.025, 0.025, 0.075, 0.125, 0.175], len: 3.5, width: 1.6 } },
        scales: {
            x: {
                type: "linear", position: { y: 0 }, min: 0, max: 23.9,
                afterBuildTicks: (s) => { s.ticks = [5, 10, 15, 20].map((v) => ({ value: v })); },
                border: { color: "#111", width: 2 },
                grid: { drawOnChartArea: false, tickLength: 5, tickWidth: 2, tickColor: "#111" },
                ticks: { font: { size: 11, weight: "bold" }, color: "#333", padding: 3, maxRotation: 0, autoSkip: false }
            },
            y: {
                min: -0.05, max: 0.2,
                afterBuildTicks: (s) => { s.ticks = [0, 0.05, 0.1, 0.15, 0.2].map((v) => ({ value: v })); },
                afterFit: fixWidth(boxA.left),
                border: { color: "#111", width: 2 },
                grid: { drawOnChartArea: false, tickLength: 5, tickWidth: 2, tickColor: "#111" },
                ticks: { font: { size: 11, weight: "bold" }, color: "#333", padding: 2, callback: (v) => v.toFixed(2) }
            }
        }
    },
    plugins: [minorTicks, arrowMarks]
});
addText("A", 10, 8, "bold 16px 'Liberation Sans'", { color: "#111" });
addText("RPMI/10% LB", 167, 10, "bold 16.5px 'Liberation Sans'", { color: "#222" });
addText("OD600", 8, 87, "bold 16.5px 'Liberation Sans'", { color: "#111", rot: -90 });
addText("Time (hours)", 173, 167, "bold 18px 'Liberation Sans'", { color: "#111" });

// ---- panel B
function volcano(box, redPairs, blackPairs) {
    new Chart(box.canvas, {
        type: "scatter",
        data: {
            datasets: [
                { data: [{ x: foldCutoffs[0], y: 0 }, { x: foldCutoffs[0], y: 6 }], showLine: true, borderColor: "#111", borderWidth: 1.4, borderDash: [4, 2.5], pointRadius: 0 },
                { data: [{ x: foldCutoffs[1], y: 0 }, { x: foldCutoffs[1], y: 6 }], showLine: true, borderColor: "#111", borderWidth: 1.4, borderDash: [4, 2.5], pointRadius: 0 },
                { data: [{ x: -6, y: pCutoff }, { x: 6, y: pCutoff }], showLine: true, borderColor: "#111", borderWidth: 1.4, borderDash: [4, 2.5], pointRadius: 0 },
                { data: toPoints(redPairs), pointRadius: 1.5, pointBorderWidth: 0, pointBackgroundColor: "#ee1c25" },
                { data: toPoints(blackPairs), pointRadius: 2, pointBorderWidth: 0, pointBackgroundColor: "#0a0a0a" }
            ]
        },
        options: {
            layout: { autoPadding: false, padding: { left: 0, top: box.top, right: box.right, bottom: 0 } },
            plugins: { minorTicks: { x: [-5, -3, -1, 1, 3, 5], y: [1, 3, 5], len: 2.5, width: 1.4 } },
            scales: {
                x: {
                    min: -6, max: 6,
                    afterFit: fixHeight(box.bottom),
                    border: { color: "#111", width: 2 },
                    grid: { drawOnChartArea: false, tickLength: 4, tickWidth: 1.8, tickColor: "#111" },
                    ticks: { stepSize: 2, font: { size: 10, weight: "bold" }, color: "#333", padding: 3, maxRotation: 0 }
                },
                y: {
                    min: 0, max: 6,
                    afterFit: fixWidth(box.left),
                    border: { color: "#111", width: 2 },
                    grid: { drawOnChartArea: false, tickLength: 4, tickWidth: 1.8, tickColor: "#111" },
                    ticks: { stepSize: 2, font: { size: 10, weight: "bold" }, color: "#333", padding: 2 }
                }
            }
        },
        plugins: [minorTicks]
    });
}
volcano(makeBox(276, 0, 224, 160, 310.7, 17.7, 492.7, 138.7), expRed, expBlack);
volcano(makeBox(492, 0, 212, 160, 520, 19, 702, 140), statRed, statBlack);
addText("B", 281, 7, "bold 16px 'Liberation Sans'", { color: "#111" });
addText("Exponential phase", 402, 6, "bold 10.2px 'Liberation Sans'", { color: "#333" });
addText("Stationary phase", 613, 6, "bold 10.2px 'Liberation Sans'", { color: "#333" });
addText("p-value(-log<sub>10</sub>)", 292, 78, "bold 10px 'Liberation Sans'", { color: "#333", rot: -90 });
addText("p-value(-log<sub>10</sub>)", 500, 78, "bold 10px 'Liberation Sans'", { color: "#333", rot: -90 });
addText("Log<sub>2</sub> Fold Change", 402, 166, "bold 10.7px 'Liberation Sans'", { color: "#333" });
addText("((GlcNAc)<sub>2</sub> vs ctrl)", 402, 178, "bold 10.5px 'Liberation Sans'", { color: "#333" });
addText("Log<sub>2</sub> Fold Change", 611, 166, "bold 10.7px 'Liberation Sans'", { color: "#333" });
addText("((GlcNAc)<sub>2</sub> vs ctrl)", 611, 178, "bold 10.5px 'Liberation Sans'", { color: "#333" });

// ---- panel C
const capHalf = 0.16;
const whiskerPoints = [];
qpcrGenes.forEach((g, i) => {
    const lo = qpcrErrLow[i];
    const hi = qpcrErrHigh[i];
    whiskerPoints.push({ x: i, y: lo }, { x: i, y: hi }, { x: null, y: null });
    whiskerPoints.push({ x: i - capHalf, y: hi }, { x: i + capHalf, y: hi }, { x: null, y: null });
    whiskerPoints.push({ x: i - capHalf, y: lo }, { x: i + capHalf, y: lo }, { x: null, y: null });
});

const boxC = makeBox(0, 190, 704, 290, 121.5, 200, 648, 390.7);
new Chart(boxC.canvas, {
    type: "bar",
    data: {
        datasets: [
            { type: "scatter", data: pairSeries(qpcrDotX, qpcrDotY), pointRadius: 3, pointBackgroundColor: "#fff", pointBorderColor: "#111", pointBorderWidth: 1 },
            { type: "scatter", data: whiskerPoints, showLine: true, borderColor: "#111", borderWidth: 1.2, pointRadius: 0 },
            { type: "scatter", data: [{ x: -0.66, y: 0 }, { x: 10.66, y: 0 }], showLine: true, borderColor: "#111", borderWidth: 1.2, pointRadius: 0 },
            { type: "bar", data: pairSeries(qpcrGenes.map((g, i) => i), qpcrMeans), backgroundColor: "#3554a5", borderColor: "#0a0a0a", borderWidth: 2, borderSkipped: false, barThickness: 30 }
        ]
    },
    options: {
        layout: { autoPadding: false, padding: { left: 0, top: boxC.top, right: boxC.right, bottom: 0 } },
        plugins: { minorTicks: { y: [-3.5, -2.5, -1.5, -0.5, 0.5, 1.5, 2.5, 3.5], len: 3, width: 1.1, color: "#333" } },
        scales: {
            x: {
                type: "linear", min: -0.66, max: 10.66, offset: false,
                afterBuildTicks: (s) => { s.ticks = qpcrGenes.map((g, i) => ({ value: i })); },
                afterFit: fixHeight(boxC.bottom),
                border: { color: "#222", width: 1.4 },
                grid: { offset: false, drawOnChartArea: false, tickLength: 8, tickWidth: 1.3, tickColor: "#222" },
                ticks: { autoSkip: false, minRotation: 45, maxRotation: 45, padding: 7, font: { size: 14, weight: "bold", style: "italic" }, color: "#222", callback: (v) => qpcrGenes[v] }
            },
            y: {
                type: "linear", min: -4, max: 4,
                afterFit: fixWidth(boxC.left),
                border: { color: "#222", width: 1.4 },
                grid: { drawOnChartArea: false, tickLength: 6, tickWidth: 1.3, tickColor: "#222" },
                ticks: { stepSize: 1, font: { size: 16, weight: "bold" }, color: "#333", padding: 1 }
            }
        }
    },
    plugins: [minorTicks]
});
addText("C", 10, 198, "bold 16px 'Liberation Sans'", { color: "#111" });
addText("Exponential phase", 391, 201, "bold 16.2px 'Liberation Sans'", { color: "#333" });
addText("Log<sub>2</sub> Fold Change", 66, 294, "bold 16.5px 'Liberation Sans'", { color: "#222", rot: -90 });
addText("((GlcNAc)<sub>2</sub> - WT)", 85, 293, "15px 'Liberation Sans'", { color: "#333", rot: -90 });

// ---- panel D
function foldToNodeColor(v) {
    const t = Math.pow(Math.min(Math.abs(v) / 4.02, 1), 0.8);
    const end = v >= 0 ? [214, 80, 58] : [66, 146, 198];
    const mid = [248, 246, 245];
    const c = mid.map((m, i) => Math.round(m + (end[i] - m) * t));
    return `rgb(${c[0]},${c[1]},${c[2]})`;
}

function edgePoints(list) {
    const pts = [];
    list.forEach((pair) => {
        const ends = pair.split(" ").map((n) => nodeNames.indexOf(n));
        pts.push({ x: nodeX[ends[0]], y: nodeY[ends[0]] }, { x: nodeX[ends[1]], y: nodeY[ends[1]] }, { x: null, y: null });
    });
    return pts;
}

const nodeLabels = {
    id: "nodeLabels",
    afterDatasetsDraw(chart) {
        const ctx = chart.ctx;
        ctx.save();
        ctx.font = '7px "Liberation Sans", Arial, sans-serif';
        ctx.fillStyle = "#262626";
        ctx.textAlign = "center";
        ctx.textBaseline = "middle";
        nodeNames.forEach((name, i) => {
            ctx.fillText(name, chart.scales.x.getPixelForValue(nodeX[i]), chart.scales.y.getPixelForValue(nodeY[i]));
        });
        ctx.restore();
    }
};

const boxD = makeBox(60, 470, 570, 352, 60, 470, 630, 822);
new Chart(boxD.canvas, {
    type: "scatter",
    data: {
        datasets: [
            { data: pairSeries(nodeX, nodeY), pointRadius: 6, pointBorderWidth: 0, pointBackgroundColor: nodeFold.map(foldToNodeColor) },
            { data: edgePoints(thickEdges), showLine: true, borderColor: "rgba(52,60,90,0.8)", borderWidth: 2, pointRadius: 0 },
            { data: edgePoints(midEdges), showLine: true, borderColor: "rgba(95,102,130,0.65)", borderWidth: 1.2, pointRadius: 0 },
            { data: edgePoints(thinEdges), showLine: true, borderColor: "rgba(140,145,165,0.65)", borderWidth: 0.8, pointRadius: 0 }
        ]
    },
    options: {
        layout: { autoPadding: false, padding: 0 },
        scales: {
            x: { display: false, min: 60, max: 630 },
            y: { display: false, min: 470, max: 822, reverse: true }
        }
    },
    plugins: [nodeLabels]
});
addText("D", 10, 478, "bold 16px 'Liberation Sans'", { color: "#111" });

const barD = document.createElement("div");
barD.style.cssText = "position:absolute;left:640px;top:588px;width:29px;height:118px;background:linear-gradient(to bottom,#d9533c 0%,#f7f7f7 50%,#4292c6 100%);";
page.appendChild(barD);
addText("4.02", 654, 595, "bold 11px 'Liberation Sans'", { color: "#111" });
addText("-4.02", 655.5, 700, "bold 11px 'Liberation Sans'", { color: "#111" });
addText("Log<sub>2</sub> Fold change", 685, 647, "bold 18px 'Liberation Sans'", { color: "#111", rot: -90 });

// ---- panels E and F
function heatColor(v, pos, neg, negEnd) {
    const t = v >= 0 ? Math.min(v / pos, 1) : Math.min(v / neg, 1);
    const end = v >= 0 ? [255, 0, 0] : negEnd;
    const c = end.map((e) => Math.round(255 + (e - 255) * t));
    return `rgb(${c[0]},${c[1]},${c[2]})`;
}

const cellText = {
    id: "cellText",
    afterDatasetsDraw(chart, args, opts) {
        const ctx = chart.ctx;
        ctx.save();
        ctx.font = `${opts.size}px "Liberation Sans", Arial, sans-serif`;
        ctx.textAlign = "center";
        ctx.textBaseline = "middle";
        chart.data.datasets.forEach((ds, di) => {
            chart.getDatasetMeta(di).data.forEach((bar, i) => {
                const v = ds.values[i];
                const c = bar.getCenterPoint();
                ctx.fillStyle = v <= opts.lightBelow ? "#eef0ff" : (v < 0 ? "#2a2a55" : "#4a2020");
                ctx.fillText(v.toFixed(2), c.x, c.y + 0.5);
            });
        });
        ctx.strokeStyle = "#0a0a0a";
        ctx.lineWidth = 2.4;
        const a = chart.chartArea;
        ctx.strokeRect(a.left, a.top, a.right - a.left, a.bottom - a.top);
        ctx.restore();
    }
};

const boxE = makeBox(0, 866, 430, 402, 140, 874.3, 274, 1261.7);
const colorsE = (vals, pos, neg) => vals.map((v) => heatColor(v, pos, neg, [0, 0, 192]));
new Chart(boxE.canvas, {
    type: "bar",
    data: {
        labels: leftGenes,
        datasets: [
            { values: leftFold, data: leftFold.map(() => [0, 1]), yAxisID: "y", backgroundColor: colorsE(leftFold, 4.02, -3.22), borderColor: "#0a0a0a", borderWidth: 1.3, borderSkipped: false, barPercentage: 1, categoryPercentage: 1, grouped: false },
            { values: rightFold, data: rightFold.map(() => [1, 2]), yAxisID: "y1", backgroundColor: colorsE(rightFold, 4.02, -3.22), borderColor: "#0a0a0a", borderWidth: 1.3, borderSkipped: false, barPercentage: 1, categoryPercentage: 1, grouped: false }
        ]
    },
    options: {
        indexAxis: "y",
        layout: { autoPadding: false, padding: { left: 0, top: boxE.top, right: 0, bottom: boxE.bottom } },
        plugins: { cellText: { size: 10.8, lightBelow: -1.6 } },
        scales: {
            x: { display: false, min: 0, max: 2 },
            y: {
                type: "category", labels: leftGenes, offset: true, position: "left",
                afterFit: fixWidth(boxE.left),
                border: { display: false },
                grid: { offset: false, drawOnChartArea: false, tickLength: 8, tickWidth: 2, tickColor: "#111" },
                ticks: { autoSkip: false, padding: 1.5, font: { size: 14.7, weight: "bold" }, color: (c) => groupColors[leftGroups[c.index]] }
            },
            y1: {
                type: "category", labels: rightGenes, offset: true, position: "right",
                afterFit: fixWidth(boxE.right),
                border: { display: false },
                grid: { offset: false, drawOnChartArea: false, tickLength: 10, tickWidth: 2, tickColor: "#111" },
                ticks: { autoSkip: false, padding: 1, font: { size: 14.7, weight: "bold" }, color: (c) => groupColors[rightGroups[c.index]] }
            }
        }
    },
    plugins: [cellText]
});

const boxF = makeBox(430, 900, 274, 312, 548.7, 906.7, 615.3, 1207.3);
new Chart(boxF.canvas, {
    type: "bar",
    data: {
        labels: statGenes,
        datasets: [
            { values: statFold, data: statFold.map(() => [0, 1]), backgroundColor: statFold.map((v) => heatColor(v, 2.73, -1.71, [0, 0, 184])), borderColor: "#0a0a0a", borderWidth: 1.2, borderSkipped: false, barPercentage: 1, categoryPercentage: 1 }
        ]
    },
    options: {
        indexAxis: "y",
        layout: { autoPadding: false, padding: { left: 0, top: boxF.top, right: boxF.right, bottom: boxF.bottom } },
        plugins: { cellText: { size: 11, lightBelow: -1 } },
        scales: {
            x: { display: false, min: 0, max: 1 },
            y: {
                offset: true,
                afterFit: fixWidth(boxF.left),
                border: { display: false },
                grid: { offset: false, drawOnChartArea: false, tickLength: 8, tickWidth: 2, tickColor: "#111" },
                ticks: { autoSkip: false, padding: 1, font: { size: 16.5, weight: "bold" }, color: "#262626" }
            }
        }
    },
    plugins: [cellText]
});

// colour bars under both heatmaps
const barTicks = {
    id: "barTicks",
    afterDatasetsDraw(chart, args, opts) {
        const ctx = chart.ctx;
        const a = chart.chartArea;
        ctx.save();
        ctx.strokeStyle = "#0a0a0a";
        ctx.lineWidth = 2;
        opts.values.forEach((v) => {
            const px = chart.scales.x.getPixelForValue(v);
            ctx.beginPath();
            ctx.moveTo(px, a.top);
            ctx.lineTo(px, a.top + 4);
            ctx.moveTo(px, a.bottom - 4);
            ctx.lineTo(px, a.bottom);
            ctx.stroke();
        });
        ctx.restore();
    }
};

function colorBar(box, min, max, tickValues, innerValues, lowColor) {
    new Chart(box.canvas, {
        type: "bar",
        data: {
            labels: ["scale"],
            datasets: [{
                data: [[min, max]],
                barPercentage: 1,
                categoryPercentage: 1,
                borderColor: "#0a0a0a",
                borderWidth: 2,
                borderSkipped: false,
                backgroundColor: (c) => {
                    const a = c.chart.chartArea;
                    if (!a) return lowColor;
                    const g = c.chart.ctx.createLinearGradient(a.left, 0, a.right, 0);
                    g.addColorStop(0, lowColor);
                    g.addColorStop(0.5, "#ffffff");
                    g.addColorStop(1, "#ff0000");
                    return g;
                }
            }]
        },
        options: {
            indexAxis: "y",
            layout: { autoPadding: false, padding: { left: box.left, top: box.top, right: box.right, bottom: 0 } },
            plugins: { barTicks: { values: innerValues } },
            scales: {
                x: {
                    min, max,
                    afterBuildTicks: (s) => { s.ticks = tickValues.map((v) => ({ value: v })); },
                    afterFit: fixHeight(box.bottom),
                    border: { display: false },
                    grid: { drawOnChartArea: false, drawTicks: false },
                    ticks: { autoSkip: false, padding: 10, maxRotation: 0, font: { size: 16 }, color: "#333" }
                },
                y: { display: false }
            }
        },
        plugins: [barTicks]
    });
}
colorBar(makeBox(125, 1262, 166, 56, 139, 1269, 276, 1289), -4, 4, heatTicksE, [-2, 0, 2], "#0000b8");
colorBar(makeBox(500, 1214, 170, 52, 514, 1221, 652.7, 1237.3), -2.75, 2.75, heatTicksF, heatTicksF, "#0000b8");

addText("E", 11, 832, "bold 16px 'Liberation Sans'", { color: "#111" });
addText("F", 442, 833, "bold 16px 'Liberation Sans'", { color: "#111" });
addText("Log<sub>2</sub> Fold Change", 208, 1323, "bold 16.5px 'Liberation Sans'", { color: "#111" });
addText("Log<sub>2</sub> Fold Change", 585, 1273, "bold 16.5px 'Liberation Sans'", { color: "#111" });

// legend of panel E
function legendItem(label, color, swatchLeft, textCenter, cy) {
    const s = document.createElement("div");
    s.className = "swatch";
    s.style.left = swatchLeft + "px";
    s.style.top = (cy - 5) + "px";
    s.style.width = "15px";
    s.style.background = color;
    page.appendChild(s);
    addText(label, textCenter, cy, "15px 'Liberation Sans'", { color: "#333" });
}
legendItem("Methylation", groupColors.met, 64, 125.5, 846);
legendItem("Membrane", groupColors.mem, 176, 235, 846);
legendItem("DNA binding", groupColors.dna, 284, 350.5, 846);
legendItem("Electron transfer chain", groupColors.etc, 85, 183.5, 859);
legendItem("ATP binding", groupColors.atp, 273, 336, 859);
</script>
</body>
</html>
